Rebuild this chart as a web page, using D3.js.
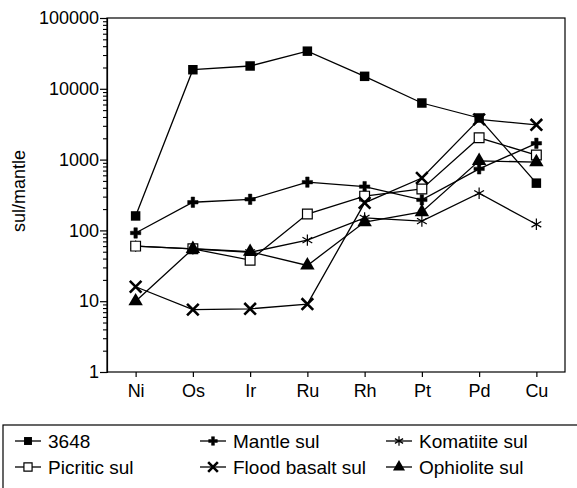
<!DOCTYPE html>
<html>
<head>
<meta charset="utf-8">
<script src="https://cdn.jsdelivr.net/npm/d3@7"></script>
<style>
  body { margin: 0; background: #fff; }
  svg { display: block; font-family: "Liberation Sans", Arial, sans-serif; }
</style>
</head>
<body>
<div id="chart"></div>
<script>
// data
var elements = ["Ni", "Os", "Ir", "Ru", "Rh", "Pt", "Pd", "Cu"];
var seriesNames = ["3648", "Mantle sul", "Komatiite sul", "Picritic sul", "Flood basalt sul", "Ophiolite sul"];
var s3648 = [160, 18600, 21000, 34000, 15000, 6300, 3870, 465];
var mantleSul = [92, 250, 275, 480, 415, 270, 740, 1700];
var komatiiteSul = [60, 55, 49, 73, 150, 135, 335, 122];
var picriticSul = [60, 55, 38, 170, 305, 385, 2030, 1160];
var floodBasaltSul = [16, 7.6, 7.8, 9.1, 245, 550, 3700, 3100];
var ophioliteSul = [10, 55, 50, 32, 131, 182, 960, 920];
var yTicks = [1, 10, 100, 1000, 10000, 100000];

var allValues = [s3648, mantleSul, komatiiteSul, picriticSul, floodBasaltSul, ophioliteSul];

// svg container
var svgWidth = 577, svgHeight = 488;
var svg = d3.select("#chart").append("svg")
    .attr("width", svgWidth)
    .attr("height", svgHeight);

var plot = { left: 107, right: 565, top: 18, bottom: 372 };

var xScale = d3.scalePoint()
    .domain(elements)
    .range([plot.left, plot.right])
    .padding(0.5);

var yScale = d3.scaleLog()
    .domain([1, 100000])
    .range([plot.bottom, plot.top]);

// frame
svg.append("rect")
    .attr("x", plot.left).attr("y", plot.top)
    .attr("width", plot.right - plot.left).attr("height", plot.bottom - plot.top)
    .attr("fill", "none").attr("stroke", "#000").attr("stroke-width", 1.2);

// minor ticks on y
var minorTicks = [];
yTicks.slice(0, -1).forEach(function(t) {
  for (var k = 2; k < 10; k++) minorTicks.push(t * k);
});
svg.append("g")
    .attr("transform", "translate(" + plot.left + ",0)")
    .call(d3.axisLeft(yScale).tickValues(minorTicks).tickSize(4).tickFormat(""))
    .call(function(g) { g.select(".domain").remove(); })
    .selectAll("line").attr("stroke-width", 1.1);

// major ticks on y
var yAxisG = svg.append("g")
    .attr("transform", "translate(" + plot.left + ",0)")
    .call(d3.axisLeft(yScale).tickValues(yTicks).tickSize(7).tickPadding(1).tickFormat(d3.format("d")));
yAxisG.select(".domain").attr("stroke-width", 1.2);
yAxisG.selectAll("line").attr("stroke-width", 1.2);
yAxisG.selectAll("text").attr("font-size", 18).attr("font-family", "Liberation Sans, Arial, sans-serif").attr("fill", "#000");

// x axis
var xAxisG = svg.append("g")
    .attr("transform", "translate(0," + plot.bottom + ")")
    .call(d3.axisBottom(xScale).tickSize(5).tickPadding(7));
xAxisG.select(".domain").remove();
xAxisG.selectAll("line").attr("stroke-width", 1.2);
xAxisG.selectAll("text").attr("font-size", 18).attr("font-family", "Liberation Sans, Arial, sans-serif").attr("fill", "#000");

// y label
svg.append("text")
    .attr("transform", "translate(25,191) rotate(-90)")
    .attr("text-anchor", "middle")
    .attr("font-size", 18)
    .text("sul/mantle");

// marker styles
var markers = [
  { type: d3.symbolSquare, size: 90, fill: "#000", stroke: "#000", sw: 0 },
  { type: d3.symbolCross, size: 60, fill: "#000", stroke: "#000", sw: 0.5 },
  { type: d3.symbolAsterisk, size: 90, fill: "none", stroke: "#000", sw: 1.2 },
  { type: d3.symbolSquare, size: 95, fill: "#fff", stroke: "#000", sw: 1.2 },
  { type: d3.symbolTimes, size: 90, fill: "none", stroke: "#000", sw: 2.6 },
  { type: d3.symbolTriangle, size: 90, fill: "#000", stroke: "#000", sw: 0 }
];

var line = d3.line()
    .x(function(d, i) { return xScale(elements[i]); })
    .y(function(d) { return yScale(d); });

allValues.forEach(function(vals, si) {
  var g = svg.append("g");
  g.append("path")
      .attr("d", line(vals))
      .attr("fill", "none")
      .attr("stroke", "#000")
      .attr("stroke-width", 1.3);
  var m = markers[si];
  g.selectAll(".pt")
      .data(vals)
      .enter()
      .append("path")
      .attr("class", "pt")
      .attr("transform", function(d, i) { return "translate(" + xScale(elements[i]) + "," + yScale(d) + ")"; })
      .attr("d", d3.symbol().type(m.type).size(m.size))
      .attr("fill", m.fill)
      .attr("stroke", m.stroke)
      .attr("stroke-width", m.sw);
});

// legend
var legend = svg.append("g");
legend.append("rect")
    .attr("x", 3).attr("y", 425)
    .attr("width", 600).attr("height", 80)
    .attr("fill", "none").attr("stroke", "#000").attr("stroke-width", 1.2);

var legCols = [15, 200, 386];
var legRows = [441, 467];
seriesNames.forEach(function(name, i) {
  var cx = legCols[i % 3], cy = legRows[Math.floor(i / 3)];
  var item = legend.append("g").attr("transform", "translate(" + cx + "," + cy + ")");
  item.append("line")
      .attr("x1", 0).attr("x2", 26)
      .attr("stroke", "#000").attr("stroke-width", 1.3);
  var m = markers[i];
  item.append("path")
      .attr("transform", "translate(13,0)")
      .attr("d", d3.symbol().type(m.type).size(m.size * 0.7))
      .attr("fill", m.fill)
      .attr("stroke", m.stroke)
      .attr("stroke-width", m.sw);
  item.append("text")
      .attr("x", 33)
      .attr("dy", "0.35em")
      .attr("font-size", 19)
      .text(name);
});
</script>
</body>
</html>
